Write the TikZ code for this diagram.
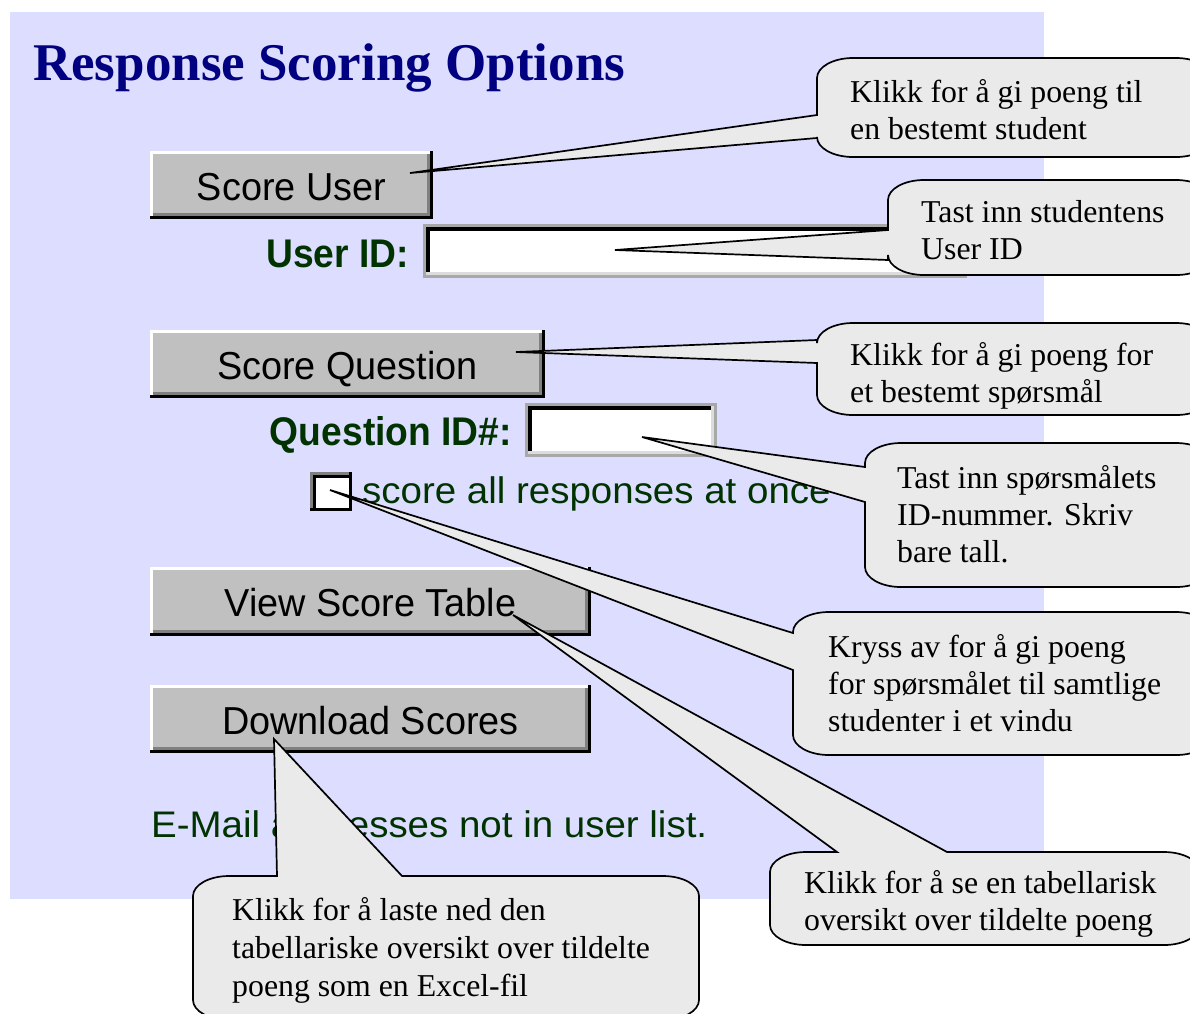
\documentclass[tikz,border=0pt]{standalone}
\usepackage{fontspec}
\setmainfont{Liberation Serif}
\newfontfamily\btnfont[FakeStretch=0.97]{Liberation Sans}
\newfontfamily\lblfont[FakeStretch=0.93]{Liberation Sans}
\newfontfamily\grnfont[FakeStretch=1.04]{Liberation Sans}
\definecolor{bg}{HTML}{DDDDFF}
\definecolor{navy}{HTML}{000080}
\definecolor{dkgreen}{HTML}{003300}
\definecolor{btngray}{HTML}{C0C0C0}
\definecolor{shadow}{HTML}{808080}
\definecolor{bubblefill}{HTML}{EAEAEA}
\definecolor{boxgray}{HTML}{A8A8A8}
\definecolor{boxlight}{HTML}{DCDCDC}
\tikzset{
 titletext/.style={anchor=base west, inner sep=0, text=navy, font=\fontsize{53}{60}\selectfont\bfseries},
 btntext/.style={anchor=base, inner sep=0, font=\btnfont\fontsize{39}{45}\selectfont},
 lbl/.style={anchor=base east, inner sep=0, text=dkgreen, font=\lblfont\bfseries\fontsize{40}{46}\selectfont},
 grn/.style={anchor=base west, inner sep=0, text=dkgreen, font=\grnfont\fontsize{37}{44}\selectfont},
 bubble/.style={fill=bubblefill, draw=black, line width=1.7pt, line join=miter},
 btext/.style={anchor=north west, inner sep=0, align=left, font=\fontsize{31.8}{37}\selectfont},
}
\newcommand{\fr}{\rule{0pt}{24pt}}
\newcommand{\winbtn}[6]{%
 \fill[black] (#1,#2) rectangle (#3,#4);
 \fill[white] (#1,#2) rectangle (#3-3,#4-3);
 \fill[shadow] (#1+3,#2+3) rectangle (#3-3,#4-3);
 \fill[btngray] (#1+3,#2+3) rectangle (#3-6,#4-6);
 \node[btntext] (#6) at ({(#1+#3)/2},#2+49) {#5};
}
\newcommand{\txtbox}[4]{%
 \fill[boxgray] (#1,#2) rectangle (#3,#4);
 \fill[boxlight] (#1+3,#2+3) rectangle (#3-3,#4-3);
 \fill[black] (#1+3,#2+3) rectangle (#3-6,#4-6);
 \fill[white] (#1+7,#2+7) rectangle (#3-6,#4-6);
}
\newcommand{\bubL}[7]{%
 \draw[bubble] (#1,#5) -- (#7) -- (#1,#6) -- (#1,#4-20) .. controls (#1,#4-9) and (#1+16,#4) .. (#1+36,#4) -- (#3-36,#4) .. controls (#3-16,#4) and (#3,#4-9) .. (#3,#4-20) -- (#3,#2+20) .. controls (#3,#2+9) and (#3-16,#2) .. (#3-36,#2) -- (#1+36,#2) .. controls (#1+16,#2) and (#1,#2+9) .. (#1,#2+20) -- cycle;}
\newcommand{\bubT}[7]{%
 \draw[bubble] (#5,#2) -- (#7) -- (#6,#2) -- (#3-36,#2) .. controls (#3-16,#2) and (#3,#2+9) .. (#3,#2+20) -- (#3,#4-20) .. controls (#3,#4-9) and (#3-16,#4) .. (#3-36,#4) -- (#1+36,#4) .. controls (#1+16,#4) and (#1,#4-9) .. (#1,#4-20) -- (#1,#2+20) .. controls (#1,#2+9) and (#1+16,#2) .. (#1+36,#2) -- cycle;}
\begin{document}
\begin{tikzpicture}[x=1pt,y=-1pt]
\useasboundingbox (0,0) rectangle (1190,1013);
\clip (0,0) rectangle (1190,1013);
\fill[white] (0,0) rectangle (1190,1013);
\fill[bg] (10,12) rectangle (1044,899);
\node[titletext] (title) at (33,80) {Response Scoring Options};
% buttons
\winbtn{150}{151}{433}{219}{Score User}{su}
\winbtn{150}{330}{545}{398}{Score Question}{sq}
\winbtn{150}{567}{591}{636}{View Score Table}{vst}
\winbtn{150}{685}{591}{753}{Download Scores}{ds}
% labels and fields
\node[lbl] (uidlbl) at (409,267) {User ID:};
\txtbox{423}{224}{967}{278}
\node[lbl] (qidlbl) at (512,445) {Question ID\#:};
\txtbox{525}{403}{717}{457}
\fill[black] (310,472) rectangle (352,511);
\fill[shadow] (310,472) rectangle (349,508);
\fill[black] (313,475) rectangle (349,508);
\fill[white] (316,478) rectangle (349,508);
\node[grn] (allresp) at (362,503) {score all responses at once};
\node[grn] (email) at (151,837) {E-Mail addresses not in user list.};
% tips
\coordinate (t1) at (410,173);
\coordinate (t2) at (615,250);
\coordinate (t3) at (516,352);
\coordinate (t4) at (642,437);
\coordinate (t5) at (330,490);
\coordinate (t6) at (513,615);
\coordinate (t7) at (274,739);
% callouts
\bubL{817}{58}{1212}{157}{115}{138}{t1}
\bubL{888}{180}{1212}{275}{230}{260}{t2}
\bubL{817}{323}{1212}{415}{340}{363}{t3}
\bubL{865}{443}{1212}{587}{467}{502}{t4}
\bubL{793}{612}{1212}{755}{633}{670}{t5}
\bubT{770}{852}{1200}{945}{837}{947}{t6}
\bubT{193}{876}{699}{1020}{277}{402}{t7}
\node[btext] (c1) at (850,78) {\fr Klikk for å gi poeng til\\en bestemt student};
\node[btext] (c2) at (921,198) {\fr Tast inn studentens\\User ID};
\node[btext] (c3) at (850,341) {\fr Klikk for å gi poeng for\\et bestemt spørsmål};
\node[btext] (c4) at (897,464) {\fr Tast inn spørsmålets\\ID-nummer. Skriv\\bare tall.};
\node[btext] (c5) at (828,633) {\fr Kryss av for å gi poeng\\for spørsmålet til samtlige\\studenter i et vindu};
\node[btext] (c6) at (804,869) {\fr Klikk for å se en tabellarisk\\oversikt over tildelte poeng};
\node[btext, font=\fontsize{31.8}{38}\selectfont] (c7) at (232,896) {\fr Klikk for å laste ned den\\tabellariske oversikt over tildelte\\poeng som en Excel-fil};
\end{tikzpicture}
\end{document}
